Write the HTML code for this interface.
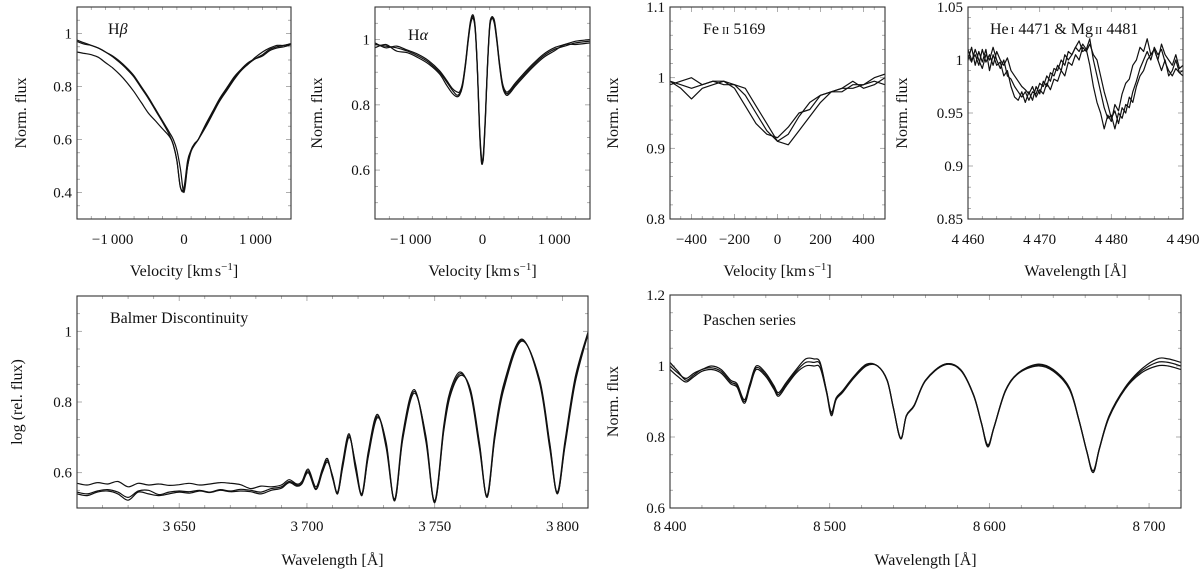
<!DOCTYPE html>
<html><head><meta charset="utf-8"><style>
html,body{margin:0;padding:0;background:#fff}
svg, svg text{font-family:"Liberation Serif","DejaVu Serif",serif}
</style></head><body>
<svg id="fig" width="1200" height="573" viewBox="0 0 1200 573" xmlns="http://www.w3.org/2000/svg" font-family="Liberation Serif, serif"></svg>
<script>
// ---------- data ----------
const hbX=[-1500,-1400,-1300,-1200,-1100,-1000,-900,-800,-700,-600,-500,-400,-300,-200,-150,-100,-50,0,50,100,150,200,300,400,500,600,700,800,900,1000,1100,1200,1300,1400,1500];
const hbS1=[0.975,0.965,0.955,0.945,0.93,0.915,0.895,0.87,0.84,0.80,0.76,0.715,0.67,0.625,0.6,0.56,0.49,0.40,0.5,0.56,0.585,0.6,0.65,0.70,0.75,0.79,0.83,0.86,0.885,0.905,0.92,0.94,0.95,0.955,0.96];
const hbS2=[0.97,0.96,0.955,0.945,0.93,0.912,0.89,0.865,0.835,0.795,0.755,0.71,0.665,0.615,0.58,0.52,0.42,0.42,0.52,0.56,0.585,0.6,0.645,0.695,0.745,0.785,0.825,0.86,0.885,0.91,0.93,0.945,0.955,0.955,0.962];
const hbS3=[0.93,0.925,0.92,0.91,0.89,0.87,0.845,0.815,0.78,0.74,0.70,0.67,0.64,0.61,0.58,0.52,0.42,0.41,0.5,0.555,0.58,0.6,0.655,0.705,0.755,0.795,0.835,0.865,0.89,0.905,0.915,0.935,0.945,0.95,0.958];

const haX=[-1500,-1350,-1200,-1050,-900,-750,-600,-500,-420,-360,-320,-280,-240,-200,-165,-130,-100,-70,-40,-15,0,15,40,70,100,130,165,200,240,280,330,380,450,550,700,850,1000,1150,1300,1500];
const haS1=[0.985,0.98,0.975,0.965,0.95,0.93,0.9,0.87,0.845,0.83,0.835,0.86,0.92,1.0,1.055,1.07,1.03,0.9,0.72,0.63,0.62,0.65,0.76,0.92,1.04,1.07,1.055,1.0,0.92,0.86,0.835,0.84,0.86,0.885,0.92,0.95,0.97,0.98,0.99,0.995];
const haS2=[0.975,0.985,0.965,0.96,0.945,0.925,0.895,0.86,0.835,0.825,0.83,0.855,0.915,0.995,1.05,1.065,1.025,0.895,0.715,0.625,0.63,0.66,0.77,0.925,1.045,1.065,1.05,0.995,0.915,0.855,0.83,0.835,0.855,0.88,0.915,0.945,0.965,0.985,0.985,0.99];
const haS3=[0.99,0.975,0.98,0.968,0.955,0.935,0.905,0.875,0.85,0.84,0.84,0.865,0.925,1.005,1.06,1.075,1.035,0.905,0.73,0.64,0.625,0.645,0.755,0.915,1.035,1.065,1.06,1.005,0.925,0.865,0.84,0.845,0.865,0.89,0.925,0.955,0.975,0.985,0.995,1.0];

const feX=[-500,-450,-400,-350,-300,-250,-200,-150,-100,-50,0,50,100,150,200,250,300,350,400,450,500];
const feS1=[0.995,0.99,0.985,0.99,0.995,0.99,0.99,0.975,0.95,0.925,0.91,0.92,0.945,0.965,0.975,0.98,0.985,0.985,0.99,1.0,1.005];
const feS2=[0.99,0.995,1.0,0.99,0.995,0.995,0.985,0.96,0.935,0.92,0.915,0.93,0.95,0.955,0.975,0.98,0.985,0.995,0.985,0.99,1.0];
const feS3=[0.995,0.985,0.97,0.985,0.99,0.995,0.99,0.985,0.96,0.935,0.91,0.905,0.925,0.945,0.965,0.98,0.98,0.99,0.99,0.995,0.99];

const heX=[4460,4460.5,4461,4461.5,4462,4462.5,4463,4463.5,4464,4464.5,4465,4465.5,4466,4466.5,4467,4467.5,4468,4468.5,4469,4469.5,4470,4470.5,4471,4471.5,4472,4472.5,4473,4473.5,4474,4474.5,4475,4475.5,4476,4476.5,4477,4477.5,4478,4478.5,4479,4479.5,4480,4480.5,4481,4481.5,4482,4482.5,4483,4483.5,4484,4484.5,4485,4485.5,4486,4486.5,4487,4487.5,4488,4488.5,4489,4489.5,4490];
const heS1=[1.01,1.0,1.005,0.995,1.01,0.998,1.005,0.995,1.008,1.0,0.995,1.002,0.99,0.985,0.98,0.975,0.972,0.968,0.975,0.965,0.972,0.968,0.978,0.972,0.982,0.98,0.99,0.985,0.998,0.995,1.005,1.0,1.012,1.008,1.015,1.005,1.0,0.985,0.97,0.958,0.945,0.952,0.94,0.955,0.95,0.965,0.96,0.975,0.985,0.99,1.0,1.005,1.01,1.0,1.015,1.005,1.0,0.995,1.005,0.992,0.995];
const heS2=[1.0,1.012,0.995,1.008,0.998,1.01,0.99,1.005,0.995,0.998,0.985,0.99,0.975,0.965,0.962,0.97,0.96,0.97,0.962,0.975,0.968,0.98,0.975,0.988,0.985,0.995,0.99,1.005,1.0,1.005,1.012,1.008,1.015,1.01,1.02,1.0,0.985,0.97,0.955,0.945,0.948,0.935,0.95,0.945,0.958,0.955,0.97,0.98,0.992,1.0,1.008,1.0,1.012,1.005,1.01,0.998,0.99,0.985,0.992,0.988,0.99];
const heS3=[1.005,0.998,1.01,1.0,0.992,1.005,1.0,1.012,1.0,0.992,1.0,0.985,0.982,0.975,0.97,0.965,0.97,0.962,0.97,0.968,0.978,0.975,0.985,0.98,0.992,0.99,1.0,0.995,1.008,1.005,1.012,1.018,1.008,1.01,0.995,0.975,0.96,0.95,0.935,0.948,0.942,0.958,0.952,0.968,0.978,0.982,0.995,1.0,1.012,1.008,1.02,1.005,1.01,1.0,0.99,1.0,0.985,0.99,1.0,0.988,0.985];

const baX=[3610,3614,3618,3622,3626,3630,3634,3638,3642,3646,3650,3654,3658,3662,3666,3670,3674,3678,3682,3686,3690,3693,3696,3698,3700.5,3703.5,3706,3708,3710,3712,3714,3716.5,3719,3721.5,3724,3727.5,3731,3734.3,3737.5,3742,3746.5,3750,3753.5,3756,3760,3764,3767.5,3770.5,3773.5,3777,3784,3791,3795,3798,3801,3805,3810];
const baS1=[0.545,0.540,0.548,0.552,0.545,0.530,0.548,0.550,0.538,0.545,0.548,0.546,0.550,0.545,0.552,0.548,0.553,0.550,0.545,0.555,0.560,0.575,0.565,0.570,0.605,0.555,0.605,0.635,0.59,0.54,0.62,0.705,0.62,0.535,0.65,0.76,0.68,0.52,0.70,0.83,0.70,0.515,0.72,0.82,0.88,0.83,0.68,0.53,0.70,0.84,0.975,0.86,0.68,0.54,0.68,0.86,0.995];
const baS2=[0.570,0.565,0.572,0.568,0.575,0.560,0.570,0.565,0.568,0.564,0.566,0.570,0.565,0.568,0.572,0.570,0.566,0.555,0.562,0.560,0.565,0.58,0.568,0.575,0.61,0.56,0.61,0.64,0.585,0.545,0.63,0.71,0.61,0.54,0.66,0.765,0.67,0.525,0.71,0.835,0.69,0.52,0.73,0.83,0.885,0.825,0.67,0.535,0.71,0.85,0.978,0.855,0.67,0.545,0.69,0.87,0.998];
const baS3=[0.540,0.535,0.545,0.548,0.540,0.522,0.545,0.540,0.535,0.540,0.545,0.542,0.548,0.544,0.550,0.546,0.548,0.546,0.540,0.550,0.556,0.572,0.562,0.568,0.600,0.552,0.600,0.630,0.592,0.542,0.615,0.70,0.625,0.538,0.645,0.755,0.685,0.522,0.695,0.825,0.705,0.518,0.715,0.815,0.875,0.835,0.685,0.532,0.695,0.835,0.972,0.865,0.685,0.542,0.675,0.855,0.992];

const paX=[8400,8405,8410,8415,8420,8426,8432,8438,8442,8446.5,8450,8454,8460,8465,8468,8473,8479,8485,8490,8494,8498,8501,8504,8508,8515,8523,8530,8536,8540,8544.5,8548,8553,8560,8572,8582,8590,8595,8599,8603,8610,8618,8630,8640,8650,8656,8661,8665,8669,8675,8685,8695,8705,8712,8720];
const paS1=[1.0,0.98,0.965,0.98,0.99,1.0,0.99,0.96,0.95,0.905,0.95,1.0,0.98,0.945,0.925,0.955,0.99,1.02,1.02,1.01,0.93,0.87,0.91,0.93,0.97,1.005,1.0,0.96,0.88,0.795,0.86,0.89,0.96,1.005,0.99,0.92,0.84,0.775,0.83,0.93,0.98,1.005,0.99,0.94,0.85,0.76,0.70,0.77,0.86,0.94,0.99,1.02,1.02,1.01];
const paS2=[0.99,0.97,0.955,0.97,0.985,0.99,0.98,0.95,0.94,0.895,0.94,0.99,0.97,0.935,0.915,0.945,0.98,1.0,1.0,0.995,0.925,0.86,0.905,0.925,0.965,1.0,1.0,0.958,0.878,0.795,0.858,0.888,0.958,1.003,0.988,0.918,0.838,0.772,0.828,0.928,0.978,1.0,0.985,0.935,0.848,0.758,0.70,0.768,0.855,0.935,0.98,1.0,1.0,0.99];
const paS3=[1.01,0.985,0.96,0.975,0.99,0.995,0.985,0.955,0.945,0.9,0.945,0.995,0.975,0.94,0.92,0.95,0.985,1.01,1.01,1.005,0.93,0.865,0.908,0.928,0.968,1.003,1.0,0.96,0.88,0.797,0.86,0.89,0.96,1.005,0.99,0.92,0.84,0.778,0.83,0.93,0.98,1.003,0.988,0.938,0.85,0.76,0.705,0.77,0.858,0.938,0.985,1.01,1.01,1.0];

// tick label arrays
const hbXTicks=[-1000,0,1000], hbYTicks=[0.4,0.6,0.8,1];
const haXTicks=[-1000,0,1000], haYTicks=[0.6,0.8,1];
const feXTicks=[-400,-200,0,200,400], feYTicks=[0.8,0.9,1,1.1];
const heXTicks=[4460,4470,4480,4490], heYTicks=[0.85,0.9,0.95,1,1.05];
const baXTicks=[3650,3700,3750,3800], baYTicks=[0.6,0.8,1];
const paXTicks=[8400,8500,8600,8700], paYTicks=[0.6,0.8,1,1.2];

// ---------- drawing ----------
const NS="http://www.w3.org/2000/svg";
const FONT='"Liberation Serif", serif';
const svg=document.getElementById('fig');
function mk(tag,attrs,parent){const e=document.createElementNS(NS,tag);for(const k in attrs)e.setAttribute(k,attrs[k]);if(tag==='text')e.setAttribute('font-family',FONT);(parent||svg).appendChild(e);return e;}
function fmt(v,dec){let s=Math.abs(v).toFixed(dec);let [i,f]=s.split('.');if(i.length>=4)i=i.replace(/\B(?=(\d{3})+(?!\d))/g,'\u2009');s=f?i+'.'+f:i;return (v<0?'\u2212':'')+s;}
function curve(pts,smooth){
  if(!smooth)return 'M'+pts.map(p=>p[0].toFixed(1)+','+p[1].toFixed(1)).join('L');
  let d='M'+pts[0][0].toFixed(1)+','+pts[0][1].toFixed(1);
  for(let i=0;i<pts.length-1;i++){
    const p0=pts[Math.max(0,i-1)],p1=pts[i],p2=pts[i+1],p3=pts[Math.min(pts.length-1,i+2)];
    const c1=[p1[0]+(p2[0]-p0[0])/6,p1[1]+(p2[1]-p0[1])/6],c2=[p2[0]-(p3[0]-p1[0])/6,p2[1]-(p3[1]-p1[1])/6];
    d+='C'+c1[0].toFixed(1)+','+c1[1].toFixed(1)+' '+c2[0].toFixed(1)+','+c2[1].toFixed(1)+' '+p2[0].toFixed(1)+','+p2[1].toFixed(1);
  }
  return d;
}
function panel(c){
  const g=mk('g',{});
  
  
  const sx=v=>c.x0+(v-c.xmin)/(c.xmax-c.xmin)*(c.x1-c.x0);
  const sy=v=>c.y1-(v-c.ymin)/(c.ymax-c.ymin)*(c.y1-c.y0);
  const clip='clip-'+c.name;
  const cp=mk('clipPath',{id:clip},g);mk('rect',{x:c.x0,y:c.y0,width:c.x1-c.x0,height:c.y1-c.y0},cp);
  const tk=mk('g',{stroke:'#9a9a9a','stroke-width':0.8},g);
  
  
  for(let v=c.xmin;v<=c.xmax+1e-9;v+=c.xminor){const x=sx(v);const maj=c.xticks.some(t=>Math.abs(t-v)<1e-6);const L=maj?5:3;
    mk('line',{x1:x,y1:c.y1,x2:x,y2:c.y1-L},tk);mk('line',{x1:x,y1:c.y0,x2:x,y2:c.y0+L},tk);}
  for(let k=0;;k++){const v=c.ymin+k*c.yminor;if(v>c.ymax+1e-9)break;const y=sy(v);const maj=c.yticks.some(t=>Math.abs(t-v)<1e-6);const L=maj?5:3;
    mk('line',{x1:c.x0,y1:y,x2:c.x0+L,y2:y},tk);mk('line',{x1:c.x1,y1:y,x2:c.x1-L,y2:y},tk);}
  const sg=mk('g',{'clip-path':'url(#'+clip+')',fill:'none',stroke:'#111','stroke-width':1.2,'stroke-linejoin':'round'},g);
  c.series.forEach((s,i)=>{
    const n=Math.min(c.xs.length,s.length);const pts=[];
    for(let j=0;j<n;j++)pts.push([sx(c.xs[j]),sy(s[j])]);
    const p=mk('path',{d:curve(pts,c.smooth)},sg);
    
    
  });
  const fr=mk('rect',{x:c.x0,y:c.y0,width:c.x1-c.x0,height:c.y1-c.y0,fill:'none',stroke:'#333','stroke-width':1.1},g);
  
  
  c.xticks.forEach(v=>{const t=mk('text',{x:sx(v),y:c.xly,'text-anchor':'middle','font-size':15,fill:'#111'},g);t.textContent=fmt(v,0);
    
    });
  c.yticks.forEach(v=>{const t=mk('text',{x:c.x0-5,y:sy(v)+5,'text-anchor':'end','font-size':15,fill:'#111'},g);
    const d=(String(v).split('.')[1]||'').length;t.textContent=fmt(v,d);
    
    });
  const xt=mk('text',{x:(c.x0+c.x1)/2,y:c.xty,'text-anchor':'middle','font-size':16,fill:'#111'},g);xt.innerHTML=c.xtitle;
  
  
  const cy=(c.y0+c.y1)/2;
  const yt=mk('text',{x:c.ytx,y:cy,'text-anchor':'middle','font-size':16,fill:'#111',transform:'rotate(-90 '+c.ytx+' '+cy+')'},g);yt.textContent=c.ytitle;
  
  
  const tt=mk('text',{x:c.tx,y:c.ty,'font-size':16,fill:'#111'},g);tt.innerHTML=c.title;
  
  
}
const VEL='Velocity [km<tspan dx="2">s</tspan><tspan dy="-6" font-size="11">\u22121</tspan><tspan dy="6">]</tspan>';
const WL='Wavelength [Å]';
panel({name:'hbeta-panel',x0:77,x1:291,y0:7,y1:219,xmin:-1500,xmax:1500,ymin:0.3,ymax:1.1,xminor:200,yminor:0.05,xticks:hbXTicks,yticks:hbYTicks,xs:hbX,series:[hbS3,hbS2,hbS1],smooth:true,xly:244,xty:276,ytx:26,ytitle:'Norm. flux',xtitle:VEL,title:'H<tspan font-style="italic">β</tspan>',tx:108,ty:34});
panel({name:'halpha-panel',x0:375,x1:590,y0:7,y1:219,xmin:-1500,xmax:1500,ymin:0.45,ymax:1.1,xminor:200,yminor:0.05,xticks:haXTicks,yticks:haYTicks,xs:haX,series:[haS1,haS2,haS3],smooth:true,xly:244,xty:276,ytx:322,ytitle:'Norm. flux',xtitle:VEL,title:'H<tspan font-style="italic">α</tspan>',tx:408,ty:40});
panel({name:'feii-panel',x0:670,x1:885,y0:7,y1:219,xmin:-500,xmax:500,ymin:0.8,ymax:1.1,xminor:50,yminor:0.02,xticks:feXTicks,yticks:feYTicks,xs:feX,series:[feS1,feS2,feS3],smooth:false,xly:244,xty:276,ytx:618,ytitle:'Norm. flux',xtitle:VEL,title:'Fe<tspan font-size="11" dx="3">II</tspan> 5169',tx:703,ty:34});
panel({name:'hei-mgii-panel',x0:968,x1:1183,y0:7,y1:219,xmin:4460,xmax:4490,ymin:0.85,ymax:1.05,xminor:2,yminor:0.01,xticks:heXTicks,yticks:heYTicks,xs:heX,series:[heS1,heS2,heS3],smooth:false,xly:244,xty:276,ytx:907,ytitle:'Norm. flux',xtitle:WL,title:'He<tspan font-size="11" dx="2">I</tspan> 4471 &amp; Mg<tspan font-size="11" dx="2">II</tspan> 4481',tx:990,ty:34});
panel({name:'balmer-panel',x0:77,x1:588,y0:296,y1:508,xmin:3610,xmax:3810,ymin:0.5,ymax:1.1,xminor:10,yminor:0.05,xticks:baXTicks,yticks:baYTicks,xs:baX,series:[baS1,baS2,baS3],smooth:true,xly:531,xty:565,ytx:22,ytitle:'log (rel. flux)',xtitle:WL,title:'Balmer Discontinuity',tx:110,ty:323});
panel({name:'paschen-panel',x0:670,x1:1181,y0:295,y1:508,xmin:8400,xmax:8720,ymin:0.6,ymax:1.2,xminor:20,yminor:0.05,xticks:paXTicks,yticks:paYTicks,xs:paX,series:[paS1,paS2,paS3],smooth:true,xly:531,xty:565,ytx:618,ytitle:'Norm. flux',xtitle:WL,title:'Paschen series',tx:703,ty:325});
</script>
</body></html>
